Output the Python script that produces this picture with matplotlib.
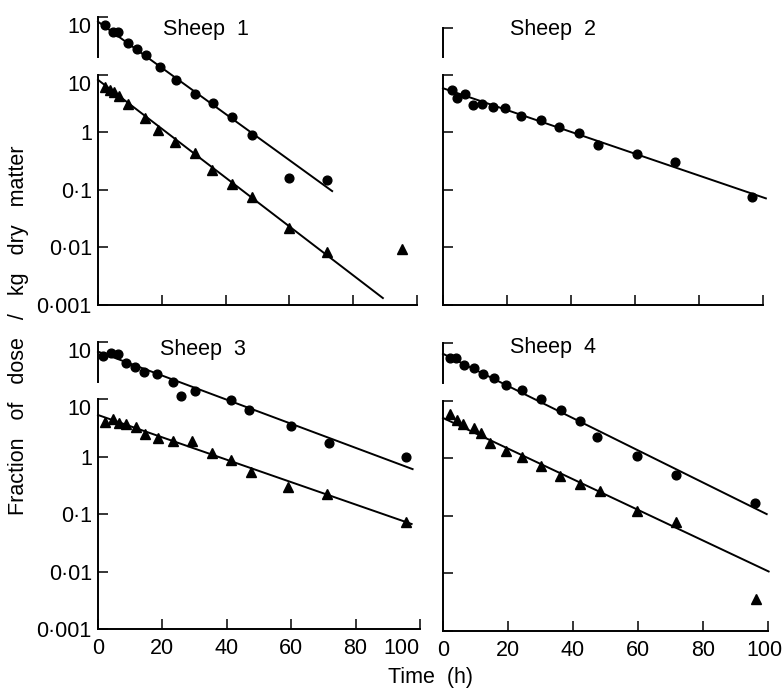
import matplotlib
matplotlib.use("Agg")
import matplotlib.pyplot as plt
from matplotlib.ticker import NullLocator
from matplotlib.transforms import ScaledTranslation

plt.rcParams["font.family"] = ["Liberation Sans", "DejaVu Sans"]
plt.rcParams["font.size"] = 15.5

# ---- data ----------------------------------------------------------------
# circles of sheep 1, 3, 4 are read on the upper (offset) scale, whose top
# tick is "10"; triangles and sheep 2 are read on the lower scale.
s1_circ_t = [2.2, 4.7, 6.3, 9.4, 12.2, 15, 19.4, 24.5, 30.4, 36, 42, 48.3, 59.9, 71.8]
s1_circ_v = [7.3, 5.5, 5.5, 3.5, 2.8, 2.2, 1.36, 0.80, 0.46, 0.32, 0.18, 0.089, 0.016, 0.0148]
s1_circ_fit_t = [0, 73.4]
s1_circ_fit_v = [8.3, 0.0095]
s1_tri_t = [2.2, 3.8, 5.0, 6.6, 9.4, 14.7, 18.8, 24.1, 30.4, 35.7, 42.0, 48.3, 59.9, 71.8, 95.3]
s1_tri_v = [6.1, 5.4, 5.0, 4.25, 3.1, 1.77, 1.09, 0.68, 0.435, 0.22, 0.126, 0.075, 0.0217, 0.0083, 0.0094]
s1_tri_fit_t = [0, 89.3]
s1_tri_fit_v = [8.1, 0.00132]

s2_circ_t = [2.7, 4.5, 6.9, 9.3, 12.1, 15.5, 19.4, 24.3, 30.5, 36.3, 42.5, 48.5, 60.5, 72.5, 96.5]
s2_circ_v = [5.4, 4.0, 4.6, 2.96, 3.09, 2.77, 2.6, 1.91, 1.63, 1.22, 0.96, 0.60, 0.42, 0.30, 0.074]
s2_circ_fit_t = [0, 100.9]
s2_circ_fit_v = [5.8, 0.071]

s3_circ_t = [1.6, 4.1, 6.2, 8.8, 11.6, 14.4, 18.3, 23.3, 25.8, 30, 41.2, 47, 59.9, 71.7, 95.8]
s3_circ_v = [5.7, 6.5, 6.1, 4.26, 3.7, 2.97, 2.77, 1.99, 1.16, 1.42, 0.98, 0.65, 0.344, 0.172, 0.10]
s3_circ_fit_t = [0, 97.7]
s3_circ_fit_v = [6.8, 0.061]
s3_tri_t = [2.3, 4.7, 6.4, 8.8, 11.9, 14.7, 18.5, 23.3, 29.1, 35.3, 41.2, 47.4, 59, 71, 95.8]
s3_tri_v = [4.1, 4.5, 3.9, 3.7, 3.34, 2.46, 2.1, 1.9, 1.9, 1.15, 0.88, 0.54, 0.30, 0.225, 0.073]
s3_tri_fit_t = [0, 97.4]
s3_tri_fit_v = [5.35, 0.0675]

s4_circ_t = [2.1, 4.1, 6.5, 9.5, 12.3, 15.6, 19.3, 24.2, 30, 36.2, 42.1, 47.5, 59.6, 71.7, 95.9]
s4_circ_v = [5.4, 5.6, 4.1, 3.7, 2.94, 2.5, 1.89, 1.55, 1.05, 0.675, 0.44, 0.238, 0.111, 0.052, 0.0165]
s4_circ_fit_t = [0, 99.6]
s4_circ_fit_v = [6.5, 0.0107]
s4_tri_t = [2.1, 4.3, 6.2, 9.5, 11.8, 14.6, 19.3, 24.2, 30, 36, 42.1, 48.3, 59.8, 71.7, 96.4]
s4_tri_v = [5.9, 4.66, 3.86, 3.38, 2.72, 1.82, 1.36, 1.04, 0.746, 0.486, 0.359, 0.267, 0.123, 0.077, 0.0036]
s4_tri_fit_t = [0, 100.2]
s4_tri_fit_v = [5.0, 0.0108]

names = ["Sheep  1", "Sheep  2", "Sheep  3", "Sheep  4"]
y_ticks = [0.001, 0.01, 0.1, 1, 10]
y_ticklabels = ["0\u00b7001", "0\u00b701", "0\u00b71", "1", "10"]
x_ticks = [0, 20, 40, 60, 80, 100]
x_ticklabels = ["0", "20", "40", "60", "80", "100"]
ylabel = "Fraction   of   dose   /   kg   dry   matter"
xlabel = "Time  (h)"

# ---- layout (pixels) -------------------------------------------------------
W, H = 782, 690
boxes = [(98, 417, 17, 305), (443, 763, 17, 305), (98, 420, 342, 629), (443, 768, 343, 631)]
title_pos = [(163, 35), (510, 35), (160, 355), (510, 353)]
upper_top = [10, 6.4, 10, 10]   # top tick of the upper scale segment


def shift(label, fig, dx_px):
    label.set_transform(label.get_transform() +
                        ScaledTranslation(dx_px / fig.dpi, 0, fig.dpi_scale_trans))


def draw_panel(fig, i, circ, circ_fit, tri=None, tri_fit=None):
    l, r, t, b = boxes[i]
    ax = fig.add_axes([l / W, 1 - b / H, (r - l) / W, (b - t) / H])
    ax.set_yscale("log")
    ax.set_ylim(1e-3, 1e2)
    ax.set_xlim(0, 100)
    up = ax.twinx()
    up.set_yscale("log")
    up.set_ylim(1e-4, 1e1)

    # circles sit on the upper scale unless there is no triangle series
    cax = up if tri is not None else ax
    cax.plot(circ[0], circ[1], "o", color="k", ms=6.3, clip_on=False)
    cax.plot(circ_fit[0], circ_fit[1], "-", color="k", lw=1.4, clip_on=False)
    if tri is not None:
        ax.plot(tri[0], tri[1], "^", color="k", ms=7, clip_on=False)
        ax.plot(tri_fit[0], tri_fit[1], "-", color="k", lw=1.4, clip_on=False)

    for a in (ax, up):
        a.spines["top"].set_visible(False)
        a.spines["right"].set_visible(False)
        a.yaxis.set_minor_locator(NullLocator())
        a.tick_params(direction="in", length=7.5, width=1.1, pad=4.5)
        a.spines["left"].set_linewidth(1.4)
    up.spines["bottom"].set_visible(False)
    ax.spines["bottom"].set_linewidth(1.4)
    ax.spines["left"].set_bounds(1e-3, 10)
    up.spines["left"].set_bounds(2.0, upper_top[i])
    up.yaxis.tick_left()

    left = i in (0, 2)
    ax.set_yticks(y_ticks)
    up.set_yticks([upper_top[i]])
    if left:
        ax.set_yticklabels(y_ticklabels)
        up.set_yticklabels(["10"])
        ax.get_yticklabels()[-1].set_va("top")
        up.get_yticklabels()[0].set_va("top")
    else:
        ax.set_yticklabels([])
        up.set_yticklabels([])

    ax.set_xticks(x_ticks)
    ax.tick_params(axis="x", pad=6.5)
    if i >= 2:
        ax.set_xticklabels(x_ticklabels)
        last = ax.get_xticklabels()[-1]
        if i == 2:
            last.set_ha("right")   # keep "100" clear of the next panel's "0"
        else:
            shift(last, fig, -4)
    else:
        ax.set_xticklabels([])

    fig.text(title_pos[i][0] / W, 1 - title_pos[i][1] / H, names[i],
             ha="left", va="baseline")


fig = plt.figure(figsize=(W / 100, H / 100), dpi=100)
draw_panel(fig, 0, (s1_circ_t, s1_circ_v), (s1_circ_fit_t, s1_circ_fit_v),
           (s1_tri_t, s1_tri_v), (s1_tri_fit_t, s1_tri_fit_v))
draw_panel(fig, 1, (s2_circ_t, s2_circ_v), (s2_circ_fit_t, s2_circ_fit_v))
draw_panel(fig, 2, (s3_circ_t, s3_circ_v), (s3_circ_fit_t, s3_circ_fit_v),
           (s3_tri_t, s3_tri_v), (s3_tri_fit_t, s3_tri_fit_v))
draw_panel(fig, 3, (s4_circ_t, s4_circ_v), (s4_circ_fit_t, s4_circ_fit_v),
           (s4_tri_t, s4_tri_v), (s4_tri_fit_t, s4_tri_fit_v))

fig.text(19 / W, 1 - 330 / H, ylabel, rotation=90, ha="center", va="center")
fig.text(430 / W, 1 - 677 / H, xlabel, ha="center", va="center")

fig.savefig("out.png", dpi=100)
